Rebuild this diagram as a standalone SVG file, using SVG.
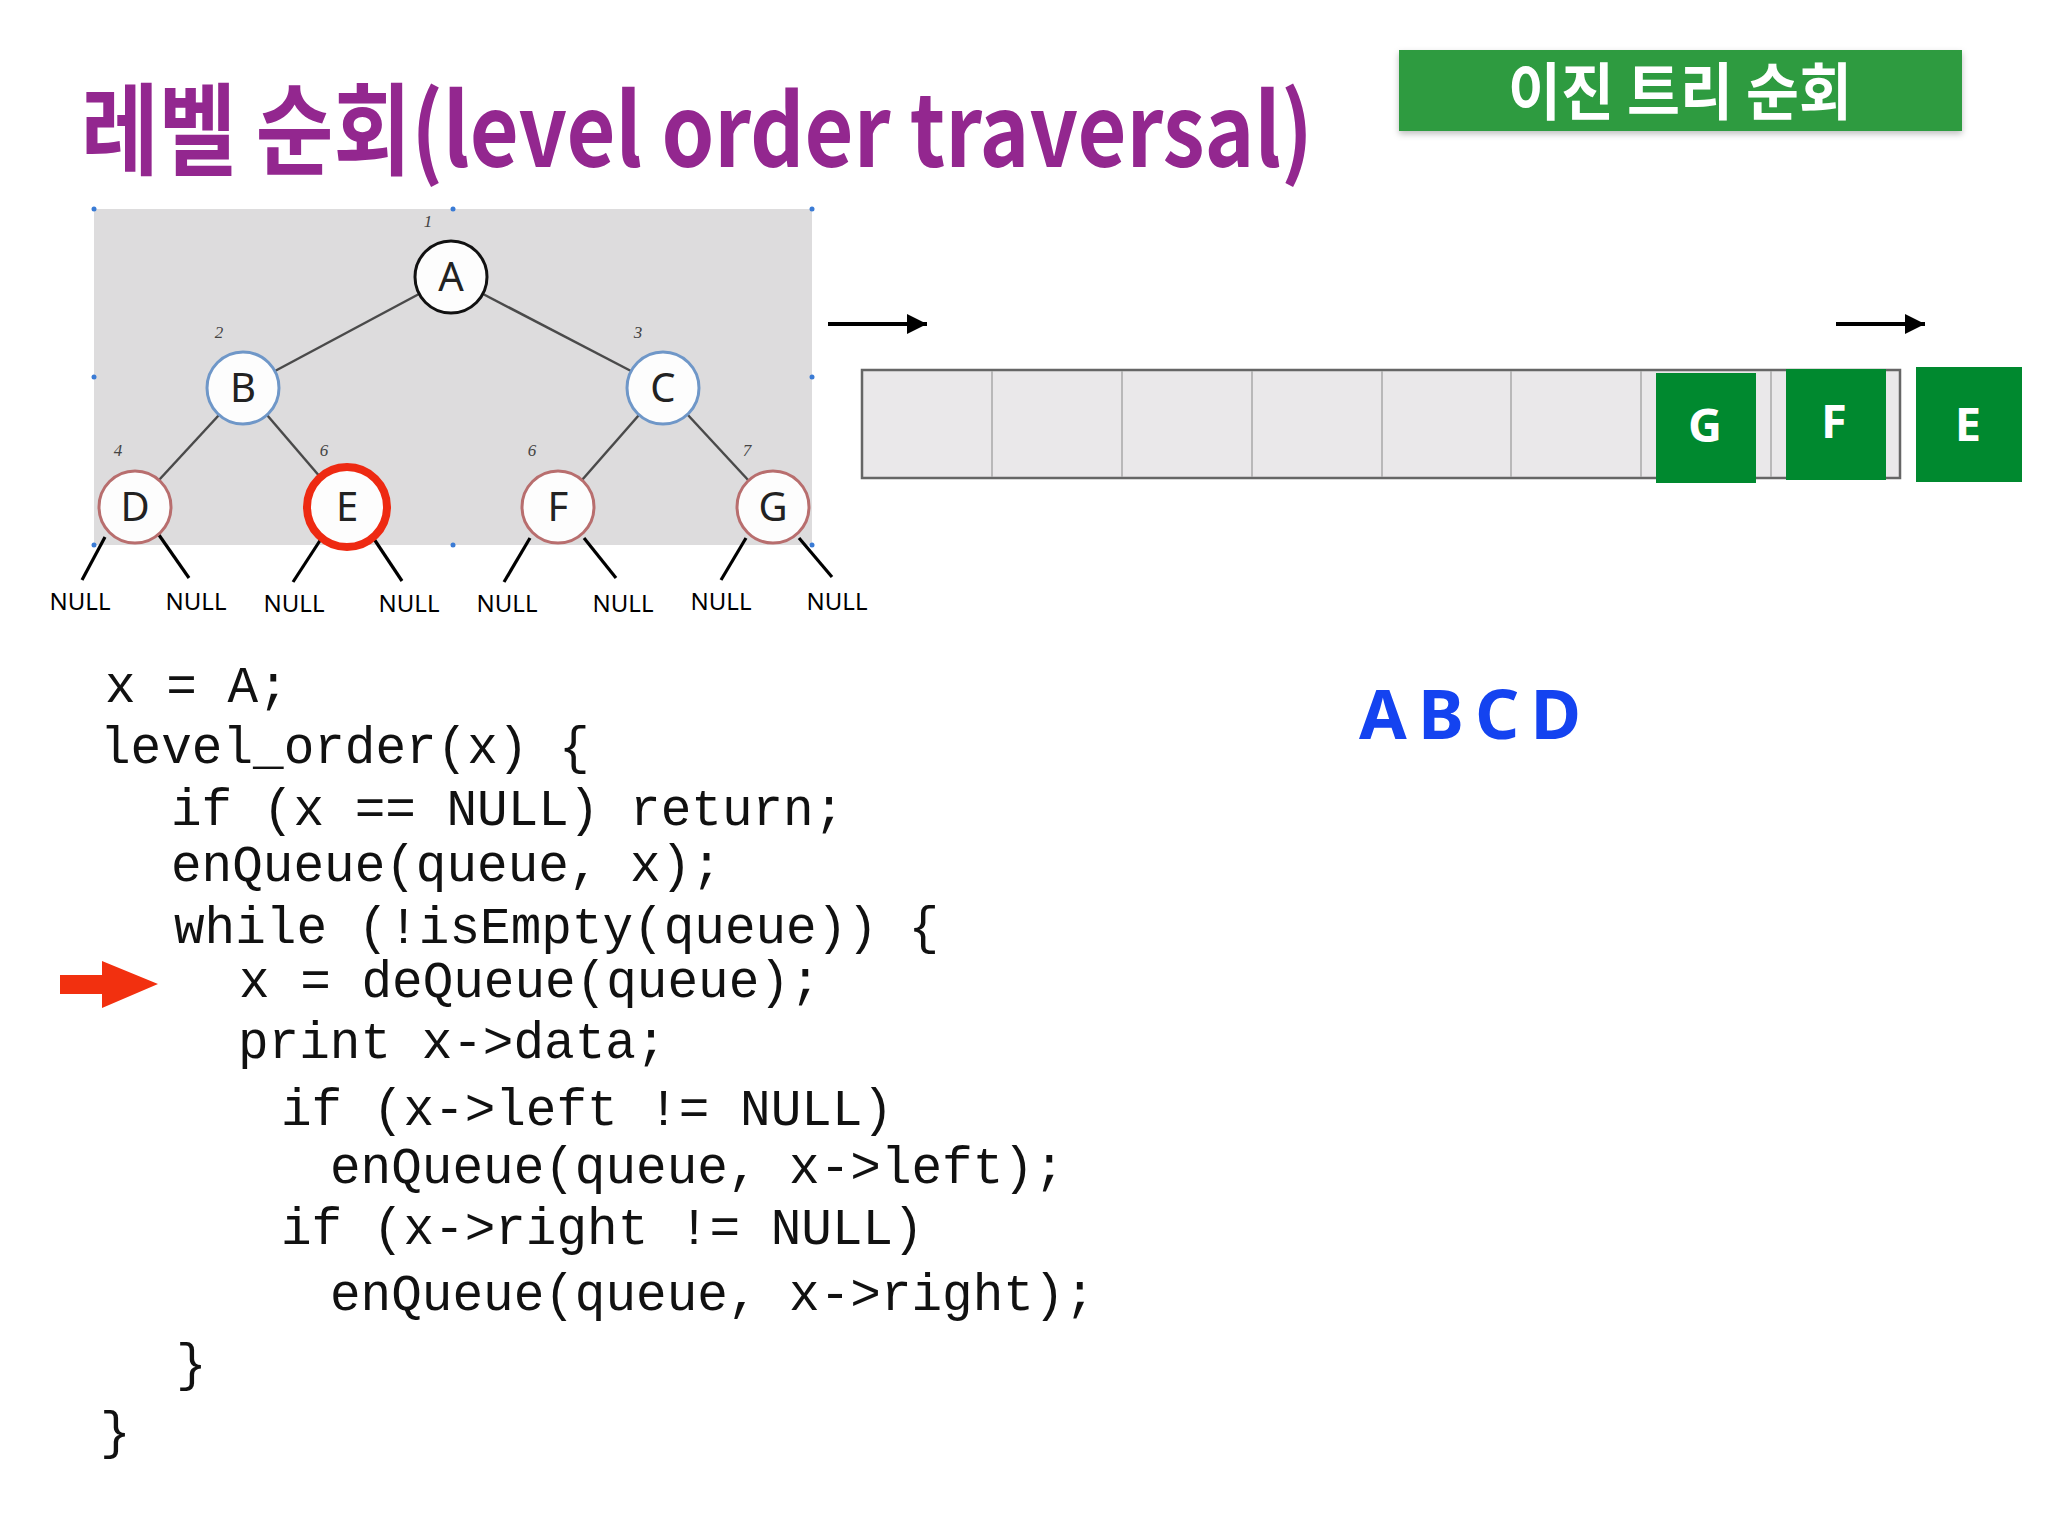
<svg xmlns="http://www.w3.org/2000/svg" width="2048" height="1536" viewBox="0 0 2048 1536">
<style>
.title{font-family:"Noto Sans CJK KR","Noto Sans",sans-serif;font-weight:700;}
.node{fill:#fdfdfd;stroke-width:3;}
.nA{stroke:#111;}
.nBlue{stroke:#6f97c8;}
.nRed{stroke:#b86e6e;}
.nE{stroke:#ee2a12;stroke-width:8;}
.lbl{font-family:"Noto Sans","Liberation Sans",sans-serif;font-size:40px;fill:#222;text-anchor:middle;}
.num{font-family:"Liberation Serif",serif;font-style:italic;font-size:17px;fill:#444;text-anchor:middle;}
.edge{stroke:#4a4a4a;stroke-width:2.5;fill:none;}
.nl{stroke:#000;stroke-width:3.2;}
.null{font-family:"Noto Sans","Liberation Sans",sans-serif;font-size:24px;fill:#000;text-anchor:middle;}
.code{font-family:"Liberation Mono","DejaVu Sans Mono",monospace;font-size:51px;fill:#111;white-space:pre;}
.qbox{fill:#00892f;}
.qlbl{font-family:"Noto Sans","Liberation Sans",sans-serif;font-weight:700;font-size:47px;fill:#fff;text-anchor:middle;}
.div{stroke:#a9a9a9;stroke-width:1.5;}
.dot{fill:#3a7bd5;}
</style>
<defs>
<filter id="sh" x="-5%" y="-20%" width="110%" height="150%">
<feDropShadow dx="0" dy="3" stdDeviation="3" flood-color="#000" flood-opacity="0.25"/>
</filter>
<marker id="ah" markerUnits="userSpaceOnUse" markerWidth="22" markerHeight="20" refX="20" refY="10" orient="auto">
<path d="M0,0 L20,10 L0,20 Z" fill="#000"/>
</marker>
</defs>
<rect width="2048" height="1536" fill="#fff"/>

<g id="title">
<text class="title" x="81" y="167" font-size="100" fill="#93278f" textLength="1232" lengthAdjust="spacingAndGlyphs">레벨 순회(level order traversal)</text>
</g>

<g id="banner">
<rect x="1399" y="50" width="563" height="81" fill="#2f9b40" filter="url(#sh)"/>
<text class="title" x="1508" y="115" font-size="62" fill="#fff" textLength="344" lengthAdjust="spacingAndGlyphs">이진 트리 순회</text>
</g>

<g id="tree-bg">
<rect x="94" y="209" width="718" height="336" fill="#dddcdd"/>
<circle class="dot" cx="94" cy="209" r="2.5"/>
<circle class="dot" cx="453" cy="209" r="2.5"/>
<circle class="dot" cx="812" cy="209" r="2.5"/>
<circle class="dot" cx="94" cy="377" r="2.5"/>
<circle class="dot" cx="812" cy="377" r="2.5"/>
<circle class="dot" cx="94" cy="545" r="2.5"/>
<circle class="dot" cx="453" cy="545" r="2.5"/>
<circle class="dot" cx="812" cy="545" r="2.5"/>
</g>

<g id="connectors">
<line class="edge" x1="419" y1="294" x2="275" y2="371"/>
<line class="edge" x1="483" y1="294" x2="631" y2="371"/>
<line class="edge" x1="219" y1="415" x2="159" y2="480"/>
<line class="edge" x1="267" y1="415" x2="321" y2="478"/>
<line class="edge" x1="639" y1="415" x2="582" y2="480"/>
<line class="edge" x1="687" y1="414" x2="749" y2="481"/>
<line class="nl" x1="105" y1="537" x2="82" y2="580"/>
<line class="nl" x1="159" y1="535" x2="189" y2="578"/>
<line class="nl" x1="321" y1="539" x2="293" y2="582"/>
<line class="nl" x1="374" y1="539" x2="402" y2="581"/>
<line class="nl" x1="530" y1="538" x2="504" y2="582"/>
<line class="nl" x1="584" y1="538" x2="616" y2="578"/>
<line class="nl" x1="746" y1="538" x2="721" y2="580"/>
<line class="nl" x1="799" y1="538" x2="832" y2="577"/>
<line x1="828" y1="324" x2="927" y2="324" stroke="#000" stroke-width="4" marker-end="url(#ah)"/>
<line x1="1836" y1="324" x2="1925" y2="324" stroke="#000" stroke-width="4" marker-end="url(#ah)"/>
</g>

<g id="node-A"><circle class="node nA" cx="451" cy="277" r="36"/><text class="lbl" x="451" y="291">A</text><text class="num" x="428" y="227">1</text></g>
<g id="node-B"><circle class="node nBlue" cx="243" cy="388" r="36"/><text class="lbl" x="243" y="402">B</text><text class="num" x="219" y="338">2</text></g>
<g id="node-C"><circle class="node nBlue" cx="663" cy="388" r="36"/><text class="lbl" x="663" y="402">C</text><text class="num" x="638" y="338">3</text></g>
<g id="node-D"><circle class="node nRed" cx="135" cy="507" r="36"/><text class="lbl" x="135" y="521">D</text><text class="num" x="118" y="456">4</text></g>
<g id="node-E"><circle class="node nE" cx="347" cy="507" r="40"/><text class="lbl" x="347" y="521">E</text><text class="num" x="324" y="456">6</text></g>
<g id="node-F"><circle class="node nRed" cx="558" cy="507" r="36"/><text class="lbl" x="558" y="521">F</text><text class="num" x="532" y="456">6</text></g>
<g id="node-G"><circle class="node nRed" cx="773" cy="507" r="36"/><text class="lbl" x="773" y="521">G</text><text class="num" x="747" y="456">7</text></g>

<g id="nulls">
<text class="null" x="80" y="610">NULL</text>
<text class="null" x="196" y="610">NULL</text>
<text class="null" x="294" y="612">NULL</text>
<text class="null" x="409" y="612">NULL</text>
<text class="null" x="507" y="612">NULL</text>
<text class="null" x="623" y="612">NULL</text>
<text class="null" x="721" y="610">NULL</text>
<text class="null" x="837" y="610">NULL</text>
</g>

<g id="queue">
<rect x="862" y="370" width="1038" height="108" fill="#eae8ea" stroke="#666" stroke-width="2.5"/>
<line class="div" x1="992" y1="371" x2="992" y2="477"/>
<line class="div" x1="1122" y1="371" x2="1122" y2="477"/>
<line class="div" x1="1252" y1="371" x2="1252" y2="477"/>
<line class="div" x1="1382" y1="371" x2="1382" y2="477"/>
<line class="div" x1="1511" y1="371" x2="1511" y2="477"/>
<line class="div" x1="1641" y1="371" x2="1641" y2="477"/>
<line class="div" x1="1771" y1="371" x2="1771" y2="477"/>
</g>
<g id="q-G"><rect class="qbox" x="1656" y="373" width="100" height="110"/><text class="qlbl" x="1705" y="442">G</text></g>
<g id="q-F"><rect class="qbox" x="1786" y="369" width="100" height="111"/><text class="qlbl" x="1834" y="438">F</text></g>
<g id="q-E"><rect class="qbox" x="1916" y="367" width="106" height="115"/><text class="qlbl" x="1968" y="441">E</text></g>

<g id="output">
<text x="1359" y="739" font-family="Noto Sans, Open Sans, sans-serif" font-weight="700" font-size="69" fill="#1443f0" textLength="222" lengthAdjust="spacing">A B C D</text>
</g>

<g id="code">
<text class="code" x="105" y="702">x = A;</text>
<text class="code" x="100" y="763">level_order(x) {</text>
<text class="code" x="171" y="825">if (x == NULL) return;</text>
<text class="code" x="171" y="881">enQueue(queue, x);</text>
<text class="code" x="174" y="943">while (!isEmpty(queue)) {</text>
<text class="code" x="239" y="997">x = deQueue(queue);</text>
<text class="code" x="238" y="1058">print x-&gt;data;</text>
<text class="code" x="281" y="1125">if (x-&gt;left != NULL)</text>
<text class="code" x="330" y="1183">enQueue(queue, x-&gt;left);</text>
<text class="code" x="281" y="1244">if (x-&gt;right != NULL)</text>
<text class="code" x="330" y="1310">enQueue(queue, x-&gt;right);</text>
<text class="code" x="176" y="1380">}</text>
<text class="code" x="100" y="1448">}</text>
</g>

<g id="pointer">
<polygon points="60,975 102,975 102,961 158,984 102,1008 102,994 60,994" fill="#f2300f"/>
</g>
</svg>
